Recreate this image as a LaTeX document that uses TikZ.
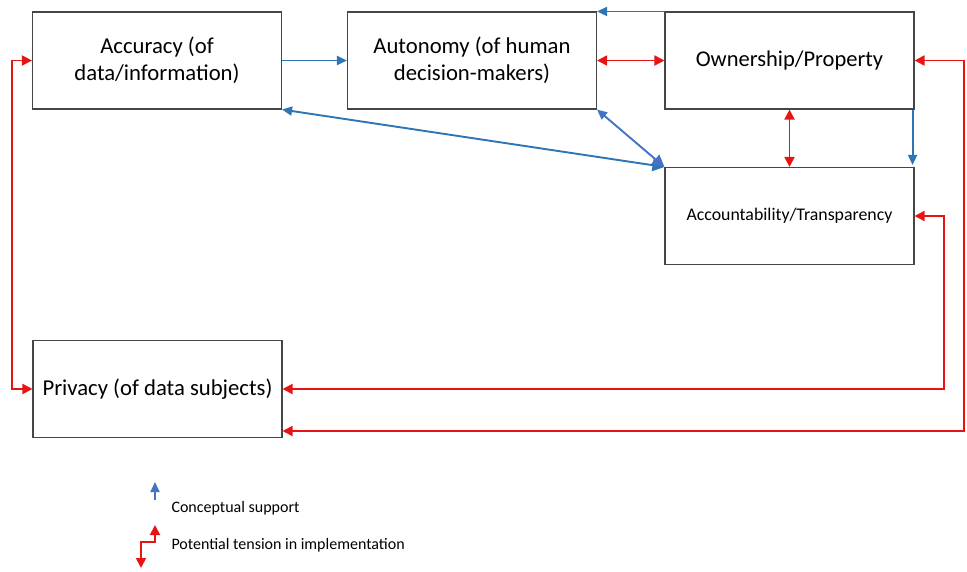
\documentclass[tikz,border=0pt]{standalone}
\usepackage{fontspec}
\setmainfont{Carlito}
\usepackage{tikz}
\usetikzlibrary{arrows.meta,calc}

\definecolor{supportblue}{RGB}{46,117,182}
\definecolor{supportgray}{RGB}{68,114,196}
\definecolor{tensionred}{RGB}{230,20,20}
\definecolor{boxline}{RGB}{70,70,70}

\begin{document}
\begin{tikzpicture}[x=1pt, y=-1pt,
    valuebox/.style={draw=boxline, line width=1.1pt, minimum width=249pt, minimum height=97pt, align=center, inner sep=0pt},
    supportline/.style={draw=supportblue, line width=1.9pt, -{Triangle[length=10pt,width=9pt]}},
    tensionline/.style={draw=tensionred, line width=1.9pt, {Triangle[length=10pt,width=10pt]}-{Triangle[length=10pt,width=10pt]}}]
    \useasboundingbox (0,0) rectangle (967,571);

    % Draw the Boxes
    \node[valuebox, font=\fontsize{22.7}{27}\selectfont] (accuracy) at (157,60.5) {Accuracy (of\\data/information)};
    \node[valuebox, font=\fontsize{22.7}{27}\selectfont] (autonomy) at (472,60.5) {Autonomy (of human\\decision-makers)};
    \node[valuebox, font=\fontsize{22.5}{27}\selectfont] (ownership) at (789.5,60.5) {Ownership/Property};
    \node[valuebox, font=\fontsize{17.8}{21}\selectfont] (account) at (789.5,216) {Accountability/Transparency};
    \node[valuebox, font=\fontsize{22.7}{27}\selectfont] (privacy) at (157.5,389) {Privacy (of data subjects)};

    % Conceptual support
    \draw[supportline] (accuracy.east) -- (autonomy.west);
    \draw[supportline] (ownership.north west) -- (autonomy.north east);
    \draw[supportline] ([xshift=-2pt]ownership.south east) -- ([xshift=-2pt,yshift=2pt]account.north east);
    \draw[supportline, {Triangle[length=10pt,width=9pt]}-{Triangle[length=12pt,width=12pt]}] (accuracy.south east) -- (account.north west);
    \draw[supportline, draw=supportgray, {Triangle[length=10pt,width=9pt]}-{Triangle[length=12pt,width=12pt]}] (autonomy.south east) -- (account.north west);

    % Potential tension
    \draw[tensionline] (autonomy.east) -- (ownership.west);
    \draw[tensionline] (ownership.south) -- (account.north);
    \draw[tensionline] (account.east) -- ++(29,0) |- (privacy.east);
    \draw[tensionline] (ownership.east) -- ++(49,0) |- ([yshift=-42pt]privacy.east);
    \draw[tensionline] (accuracy.west) -- ++(-20,0) |- (privacy.west);

    % Legend
    \coordinate (supbot) at (155,500);
    \coordinate (suptop) at (155,482);
    \draw[supportline, draw=supportgray] (supbot) -- (suptop);
    \node[anchor=west, font=\fontsize{16}{19}\selectfont] (suplabel) at (168,508) {Conceptual support};
    \coordinate (tentop) at (155,525);
    \coordinate (tenbot) at (141,568);
    \draw[tensionline] (tentop) -- (155,542) -- (141,542) -- (tenbot);
    \node[anchor=west, font=\fontsize{16}{19}\selectfont] (tenlabel) at (168,545) {Potential tension in implementation};
\end{tikzpicture}
\end{document}
